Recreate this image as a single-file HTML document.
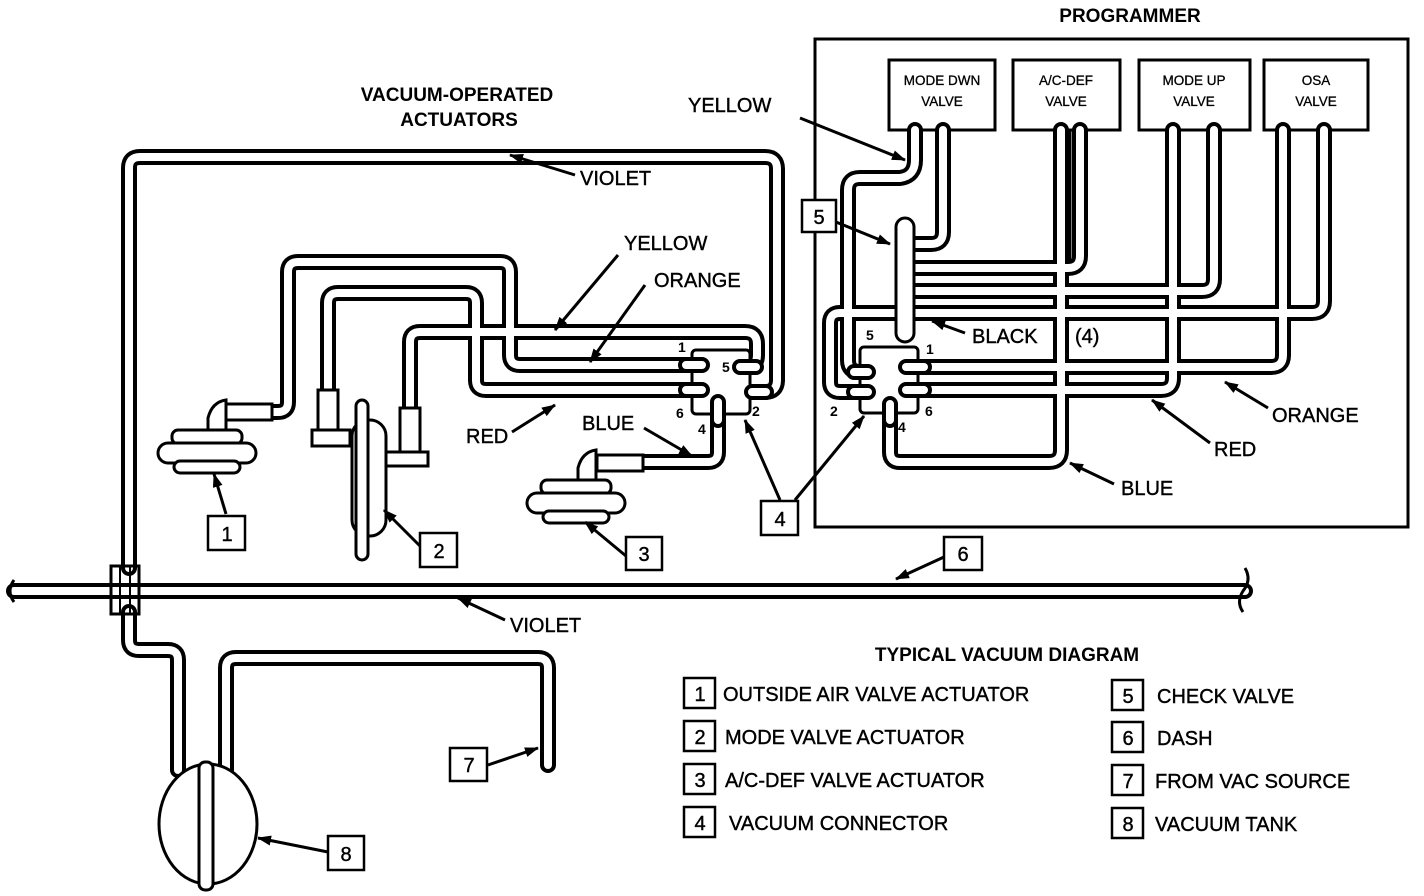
<!DOCTYPE html>
<html><head><meta charset="utf-8"><style>
html,body{margin:0;padding:0;background:#fff;}
svg{display:block;}
text{font-family:"Liberation Sans",sans-serif;fill:#000;}
.l{font-size:20px;stroke:#000;stroke-width:0.4;}
.b{font-size:19px;font-weight:bold;}
.v{font-size:13.5px;stroke:#000;stroke-width:0.3;}
</style></head><body>
<svg width="1424" height="896" viewBox="0 0 1424 896" xmlns="http://www.w3.org/2000/svg">
<defs>
<marker id="a" markerWidth="14" markerHeight="10" refX="13" refY="5" orient="auto" markerUnits="userSpaceOnUse">
<path d="M0,0 L14,5 L0,10 z" fill="#000"/></marker>
<path id="p1" d="M129 568 V168 Q129 157 140 157 H765 Q777 157 777 169 V380 Q777 392 765 392 H752"/>
<path id="p2" d="M14 591 H1245"/>
<path id="p3" d="M129 612 V640 Q129 650 139 650 H168 Q178 650 178 660 V770"/>
<path id="p4" d="M226 770 V668 Q226 658 236 658 H538 Q548 658 548 668 V765"/>
<path id="p5" d="M268 412 H278 Q288 412 288 402 V272 Q288 262 298 262 H500 Q510 262 510 272 V355 Q510 365 520 365 H700"/>
<path id="p6" d="M328 395 V303 Q328 293 338 293 H466 Q476 293 476 303 V380 Q476 390 486 390 H700"/>
<path id="p7" d="M410 412 V342 Q410 332 420 332 H745 Q757 332 757 344 V355 Q757 367 745 367 H740"/>
<path id="p8" d="M640 462 H708 Q718 462 718 452 V402"/>
<path id="p9" d="M915 130 V160 Q915 176 900 178 H860 Q848 178 848 190 V360 Q848 372 860 372 H868"/>
<path id="p10" d="M943 130 V232 Q943 244 931 244 H916"/>
<path id="p11" d="M1080 130 V256 Q1080 268 1068 268 H916"/>
<path id="p12" d="M1214 130 V279 Q1214 291 1202 291 H916"/>
<path id="p13" d="M1324 130 V301 Q1324 313 1312 313 H840 Q830 313 830 323 V382 Q830 392 840 392 H868"/>
<path id="p14" d="M1283 130 V355 Q1283 367 1271 367 H900"/>
<path id="p15" d="M1173 130 V378 Q1173 390 1161 390 H900"/>
<path id="p16" d="M1061 130 V450 Q1061 462 1049 462 H900 Q890 462 890 452 V400"/>
<path id="s" d="M686 365 H702 M686 390 H702 M756 367 H740 M766 392 H752 M718 420 V402 M854 372 H868 M854 392 H868 M924 367 H906 M924 390 H906 M890 420 V404"/>
</defs>

<text x="1130" y="22" class="b" text-anchor="middle">PROGRAMMER</text>
<text x="457" y="101" class="b" text-anchor="middle">VACUUM-OPERATED</text>
<text x="459" y="126" class="b" text-anchor="middle">ACTUATORS</text>

<rect x="815" y="39" width="593" height="488" fill="none" stroke="#000" stroke-width="3"/>
<g fill="#fff" stroke="#000" stroke-width="3">
<rect x="889" y="60" width="106" height="70"/>
<rect x="1013" y="60" width="107" height="70"/>
<rect x="1139" y="60" width="111" height="70"/>
<rect x="1264" y="60" width="104" height="70"/>
</g>
<text x="942" y="85" class="v" text-anchor="middle">MODE DWN</text>
<text x="942" y="106" class="v" text-anchor="middle">VALVE</text>
<text x="1066" y="85" class="v" text-anchor="middle">A/C-DEF</text>
<text x="1066" y="106" class="v" text-anchor="middle">VALVE</text>
<text x="1194" y="85" class="v" text-anchor="middle">MODE UP</text>
<text x="1194" y="106" class="v" text-anchor="middle">VALVE</text>
<text x="1316" y="85" class="v" text-anchor="middle">OSA</text>
<text x="1316" y="106" class="v" text-anchor="middle">VALVE</text>

<g fill="none" stroke="#000" stroke-width="16" stroke-linecap="round" stroke-linejoin="round">
<use href="#p1"/><use href="#p2"/><use href="#p3"/><use href="#p4"/><use href="#p5"/><use href="#p6"/><use href="#p7"/><use href="#p8"/>
<use href="#p9"/><use href="#p10"/><use href="#p11"/><use href="#p12"/><use href="#p13"/><use href="#p14"/><use href="#p15"/><use href="#p16"/>
</g>
<g fill="none" stroke="#fff" stroke-width="8" stroke-linecap="round" stroke-linejoin="round">
<use href="#p1"/><use href="#p2"/><use href="#p3"/><use href="#p4"/><use href="#p5"/><use href="#p6"/><use href="#p7"/><use href="#p8"/>
<use href="#p9"/><use href="#p10"/><use href="#p11"/><use href="#p12"/><use href="#p13"/><use href="#p14"/><use href="#p15"/><use href="#p16"/>
</g>
<path d="M1069 130 V262" stroke="#000" stroke-width="5"/>

<!-- connector bodies over tubes -->
<rect x="692" y="350" width="58" height="64" fill="#fff" stroke="#000" stroke-width="3" rx="4"/>
<rect x="860" y="347" width="58" height="66" fill="#fff" stroke="#000" stroke-width="3" rx="4"/>
<use href="#s" fill="none" stroke="#000" stroke-width="16" stroke-linecap="round"/>
<use href="#s" fill="none" stroke="#fff" stroke-width="8" stroke-linecap="round"/>

<rect x="896" y="218" width="18" height="124" rx="9" fill="#fff" stroke="#000" stroke-width="3"/>

<rect x="111" y="566" width="28" height="48" fill="none" stroke="#000" stroke-width="3"/>
<path d="M120 566 V614 M130 566 V614" stroke="#000" stroke-width="2"/>
<path d="M14 580 Q6 591 14 602" fill="none" stroke="#000" stroke-width="3"/>
<path d="M1245 568 Q1252 580 1243 591 Q1236 602 1243 612" fill="none" stroke="#000" stroke-width="3"/>

<ellipse cx="208" cy="824" rx="49" ry="60" fill="#fff" stroke="#000" stroke-width="3"/>
<rect x="199" y="762" width="14" height="128" rx="6" fill="#fff" stroke="#000" stroke-width="3"/>

<g fill="#fff" stroke="#000" stroke-width="3">
<rect x="226" y="404" width="46" height="16"/>
<path d="M208 432 V418 Q212 402 226 400 V432 z"/>
<rect x="172" y="430" width="70" height="14" rx="6"/>
<rect x="158" y="443" width="98" height="20" rx="10"/>
<rect x="174" y="461" width="66" height="12" rx="6"/>
</g>
<g fill="#fff" stroke="#000" stroke-width="3">
<rect x="597" y="455" width="46" height="16"/>
<path d="M578 482 V468 Q582 452 596 450 V482 z"/>
<rect x="541" y="480" width="70" height="14" rx="6"/>
<rect x="527" y="493" width="98" height="20" rx="10"/>
<rect x="543" y="511" width="66" height="12" rx="6"/>
</g>
<g fill="#fff" stroke="#000" stroke-width="3">
<rect x="318" y="390" width="20" height="42"/>
<path d="M312 430 H350 V446 H312 z"/>
<rect x="400" y="408" width="20" height="46"/>
<path d="M385 452 H428 V466 H385 z"/>
<rect x="352" y="420" width="34" height="116" rx="16"/>
<rect x="356" y="400" width="12" height="160" rx="6"/>
</g>

<g font-size="14" font-family="Liberation Sans,sans-serif" font-weight="bold">
<text x="678" y="352">1</text><text x="722" y="372">5</text><text x="676" y="418">6</text><text x="698" y="434">4</text><text x="752" y="416">2</text>
<text x="866" y="340">5</text><text x="926" y="354">1</text><text x="830" y="416">2</text><text x="925" y="416">6</text><text x="898" y="432">4</text>
</g>

<g stroke="#000" stroke-width="3" marker-end="url(#a)">
<line x1="800" y1="118" x2="905" y2="160"/>
<line x1="836" y1="222" x2="890" y2="244"/>
<line x1="965" y1="333" x2="932" y2="321"/>
<line x1="1268" y1="408" x2="1225" y2="382"/>
<line x1="1210" y1="443" x2="1152" y2="400"/>
<line x1="1114" y1="484" x2="1070" y2="463"/>
<line x1="780" y1="500" x2="745" y2="420"/>
<line x1="795" y1="500" x2="864" y2="416"/>
<line x1="575" y1="175" x2="510" y2="155"/>
<line x1="618" y1="255" x2="555" y2="330"/>
<line x1="645" y1="285" x2="590" y2="362"/>
<line x1="512" y1="432" x2="555" y2="405"/>
<line x1="644" y1="428" x2="692" y2="456"/>
<line x1="226" y1="514" x2="214" y2="474"/>
<line x1="420" y1="546" x2="384" y2="510"/>
<line x1="626" y1="556" x2="585" y2="522"/>
<line x1="944" y1="557" x2="896" y2="579"/>
<line x1="505" y1="620" x2="458" y2="598"/>
<line x1="488" y1="765" x2="538" y2="748"/>
<line x1="328" y1="852" x2="258" y2="838"/>
</g>

<g>
<text x="688" y="112" class="l">YELLOW</text>
<text x="972" y="343" class="l">BLACK</text>
<text x="1075" y="343" class="l">(4)</text>
<text x="1272" y="422" class="l">ORANGE</text>
<text x="1214" y="456" class="l">RED</text>
<text x="1121" y="495" class="l">BLUE</text>
<text x="580" y="185" class="l">VIOLET</text>
<text x="624" y="250" class="l">YELLOW</text>
<text x="654" y="287" class="l">ORANGE</text>
<text x="466" y="443" class="l">RED</text>
<text x="582" y="430" class="l">BLUE</text>
<text x="510" y="632" class="l">VIOLET</text>
</g>

<g fill="#fff" stroke="#000" stroke-width="2.5">
<rect x="208" y="516" width="37" height="34"/>
<rect x="420" y="533" width="37" height="34"/>
<rect x="626" y="537" width="36" height="33"/>
<rect x="761" y="501" width="37" height="34"/>
<rect x="802" y="200" width="34" height="32"/>
<rect x="944" y="537" width="38" height="33"/>
<rect x="450" y="748" width="37" height="33"/>
<rect x="328" y="836" width="36" height="34"/>
</g>
<g class="l" text-anchor="middle">
<text x="227" y="541">1</text><text x="439" y="558">2</text><text x="644" y="561">3</text><text x="780" y="526">4</text>
<text x="819" y="224">5</text><text x="963" y="561">6</text><text x="469" y="772">7</text><text x="346" y="861">8</text>
</g>

<text x="1007" y="661" class="b" text-anchor="middle">TYPICAL VACUUM DIAGRAM</text>
<g fill="#fff" stroke="#000" stroke-width="2.5">
<rect x="684" y="678" width="31" height="30"/><rect x="684" y="721" width="31" height="30"/>
<rect x="684" y="764" width="31" height="30"/><rect x="684" y="807" width="31" height="30"/>
<rect x="1112" y="680" width="31" height="30"/><rect x="1112" y="722" width="31" height="30"/>
<rect x="1112" y="765" width="31" height="30"/><rect x="1112" y="808" width="31" height="30"/>
</g>
<g class="l">
<text x="700" y="701" text-anchor="middle">1</text><text x="700" y="744" text-anchor="middle">2</text>
<text x="700" y="787" text-anchor="middle">3</text><text x="700" y="830" text-anchor="middle">4</text>
<text x="1128" y="703" text-anchor="middle">5</text><text x="1128" y="745" text-anchor="middle">6</text>
<text x="1128" y="788" text-anchor="middle">7</text><text x="1128" y="831" text-anchor="middle">8</text>
<text x="723" y="701">OUTSIDE AIR VALVE ACTUATOR</text>
<text x="725" y="744">MODE VALVE ACTUATOR</text>
<text x="725" y="787">A/C-DEF VALVE ACTUATOR</text>
<text x="729" y="830">VACUUM CONNECTOR</text>
<text x="1157" y="703">CHECK VALVE</text>
<text x="1157" y="745">DASH</text>
<text x="1155" y="788">FROM VAC SOURCE</text>
<text x="1155" y="831">VACUUM TANK</text>
</g>
</svg>
</body></html>
